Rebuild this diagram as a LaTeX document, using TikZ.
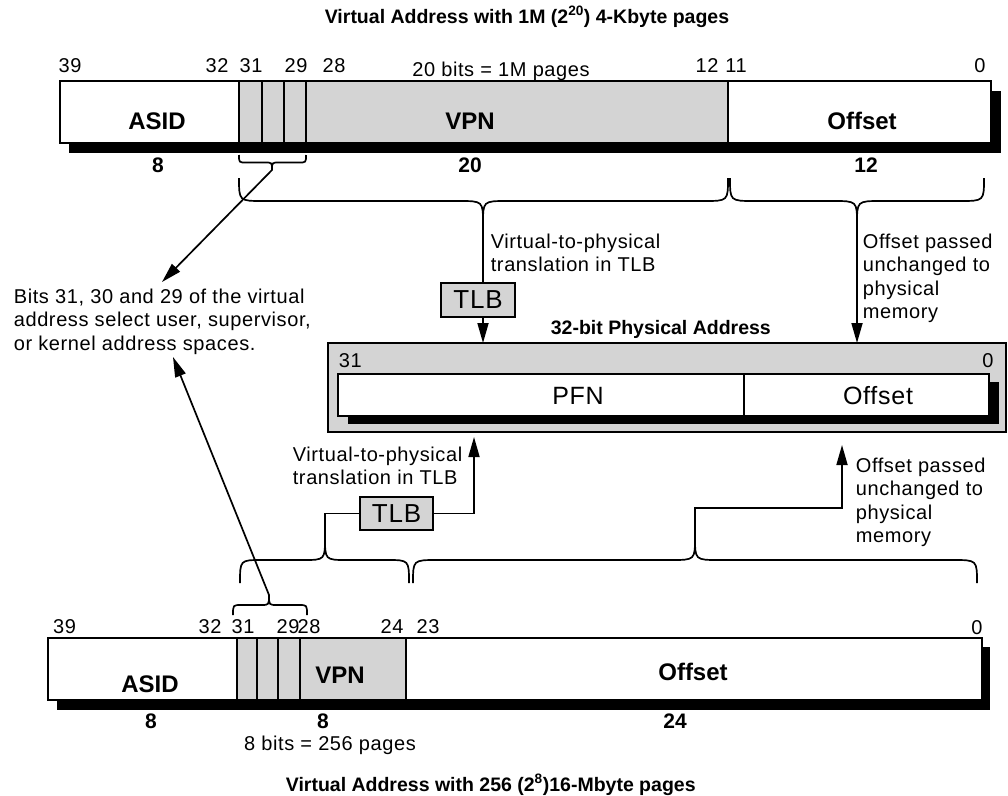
\documentclass[tikz,border=0pt]{standalone}
\usepackage{fontspec}
\setmainfont{Liberation Sans}
\newfontfamily\regfont[LetterSpace=3.0]{Liberation Sans}
\usetikzlibrary{arrows.meta}
\newcommand\mybrace[6]{%
  \draw[brc] (#1,#4) .. controls (#1,{(#4+#5)/2}) and (#1,{(#4+#5)/2}) .. ({#1+#6},{(#4+#5)/2})
    -- ({#3-#6},{(#4+#5)/2}) .. controls (#3,{(#4+#5)/2}) and (#3,{(#4+#5)/2}) .. (#3,#5)
    .. controls (#3,{(#4+#5)/2}) and (#3,{(#4+#5)/2}) .. ({#3+#6},{(#4+#5)/2})
    -- ({#2-#6},{(#4+#5)/2}) .. controls (#2,{(#4+#5)/2}) and (#2,{(#4+#5)/2}) .. (#2,#4);}
\begin{document}
\begin{tikzpicture}[x=1pt,y=-1pt,line width=1.7pt,
  shd/.style={fill=black!17},
  num/.style={font=\regfont\fontsize{20}{23}\selectfont,inner sep=0,anchor=base},
  note/.style={font=\regfont\fontsize{20}{23.5}\selectfont,inner sep=0,align=left,anchor=north west},
  fld/.style={font=\bfseries\fontsize{24}{28}\selectfont,inner sep=0,anchor=base},
  wid/.style={font=\bfseries\fontsize{21}{24}\selectfont,inner sep=0,anchor=base},
  ttl/.style={font=\bfseries\fontsize{19.5}{23}\selectfont,inner sep=0,anchor=base},
  pfld/.style={font=\regfont\fontsize{25}{28}\selectfont,inner sep=0,anchor=base},
  tlbbox/.style={draw,fill=black!17,font=\regfont\fontsize{26}{28}\selectfont,minimum width=74pt,minimum height=34pt,inner sep=0},
  arr/.style={-{Triangle[length=20pt,width=11pt]}},
  brc/.style={line width=1.7pt,line join=round}]
\useasboundingbox (0,0) rectangle (1008,795);
% ---------- top register ----------
\node[ttl] (ttop) at (527,23) {Virtual Address with 1M (2\textsuperscript{20}) 4-Kbyte pages};
\fill (69,91) rectangle (1001,153);
\fill[white] (60,81) rectangle (991,143);
\fill[shd] (239,81) rectangle (728,143);
\draw (60,81) rectangle (991,143);
\foreach \x in {239,262,284,306,728} \draw (\x,81) -- (\x,143);
\node[num] (a39) at (70,72) {39};
\node[num] (a32) at (217,72) {32};
\node[num] (a31) at (251,72) {31};
\node[num] (a29) at (296,72) {29};
\node[num] (a28) at (334,72) {28};
\node[num] (a20b) at (501,76) {20 bits = 1M pages};
\node[num] (a12) at (707,72) {12};
\node[num] (a11) at (736,72) {11};
\node[num] (a0) at (980,72) {0};
\node[fld] (aasid) at (157,129) {ASID};
\node[fld] (avpn) at (470,129) {VPN};
\node[fld] (aoff) at (862,129) {Offset};
\node[wid] (aw8) at (158,172) {8};
\node[wid] (aw20) at (470,172) {20};
\node[wid] (aw12) at (866,172) {12};
% braces top
\mybrace{239}{306}{272}{155}{170}{7}
\mybrace{239}{728}{483}{178}{224}{24}
\mybrace{730}{984}{857}{178}{224}{24}
\coordinate (tipBT) at (272,170);
\coordinate (noteTop) at (162,282);
\coordinate (tipV) at (483,224);
\coordinate (tipO) at (857,224);
\coordinate (physA) at (483,343);
\coordinate (physB) at (857,343);
% notes upper
\node[note] (bits) at (13,288) {Bits 31, 30 and 29 of the virtual\\address select user, supervisor,\\or kernel address spaces.};
\node[note] (v2pA) at (490,233) {Virtual-to-physical\\translation in TLB};
\node[note] (offA) at (862,233) {Offset passed\\unchanged to\\physical\\memory};
\node[tlbbox] (tlbA) at (478,300) {TLB};
% ---------- physical address ----------
\node[ttl,anchor=base west] (tphys) at (550,334) {32-bit Physical Address};
\filldraw[fill=black!17] (328,343) rectangle (1006,432);
\fill (348,382) rectangle (999,424);
\filldraw[fill=white] (338,374) rectangle (989,416);
\draw (744,374) -- (744,416);
\node[num,anchor=base west] (p31) at (338,367) {31};
\node[num] (p0) at (988,367) {0};
\node[pfld] (ppfn) at (578,404) {PFN};
\node[pfld] (poff) at (878,404) {Offset};
% upper connectors
\draw (tipV) -- (tipV |- tlbA.north);
\draw[arr] (tipV |- tlbA.south) -- (physA);
\draw[arr] (tipO) -- (physB);
\draw[arr] (tipBT) -- (noteTop);
% ---------- lower part ----------
\node[note] (v2pB) at (292,446) {Virtual-to-physical\\translation in TLB};
\node[note] (offB) at (855,457) {Offset passed\\unchanged to\\physical\\memory};
\node[tlbbox,minimum width=73pt,minimum height=33pt] (tlbB) at (396.5,513.5) {TLB};
\mybrace{240}{409}{325}{583}{537}{22}
\mybrace{413}{977}{695}{583}{537}{24}
\mybrace{233}{307}{269}{615}{595}{8}
\coordinate (tipBL) at (325,537);
\coordinate (tipBR) at (695,537);
\coordinate (tipBS) at (269,595);
\coordinate (physC) at (474,437);
\coordinate (bendR) at (842,508);
\coordinate (physD) at (842,445);
\coordinate (noteBot) at (173,357);
\draw (tipBL) |- (tlbB.west);
\draw[arr] (tlbB.east) -| (physC);
\draw[arr] (tipBR) |- (bendR) -- (physD);
\draw[arr] (tipBS) -- (noteBot);
% ---------- bottom register ----------
\fill (57,647) rectangle (990,710);
\fill[white] (48,638) rectangle (982,700);
\fill[shd] (237,638) rectangle (406,700);
\draw (48,638) rectangle (982,700);
\foreach \x in {237,257,278,300,406} \draw (\x,638) -- (\x,700);
\node[num] (b39) at (64.5,633) {39};
\node[num] (b32) at (210,633) {32};
\node[num] (b31) at (243,633) {31};
\node[num] (b29) at (288,633) {29};
\node[num] (b28) at (309,633) {28};
\node[num] (b24) at (392,633) {24};
\node[num] (b23) at (428,633) {23};
\node[num] (b0) at (977,634) {0};
\node[fld] (basid) at (150,692) {ASID};
\node[fld] (bvpn) at (340,683) {VPN};
\node[fld] (boff) at (693,680) {Offset};
\node[wid] (bw8) at (151,728) {8};
\node[wid] (bw8b) at (323,728) {8};
\node[wid] (bw24) at (675,728) {24};
\node[num] (b8b) at (330,750) {8 bits = 256 pages};
\node[ttl,anchor=base west] (tbot) at (285,791) {Virtual Address with 256 (2\textsuperscript{8})16-Mbyte pages};
\end{tikzpicture}
\end{document}
